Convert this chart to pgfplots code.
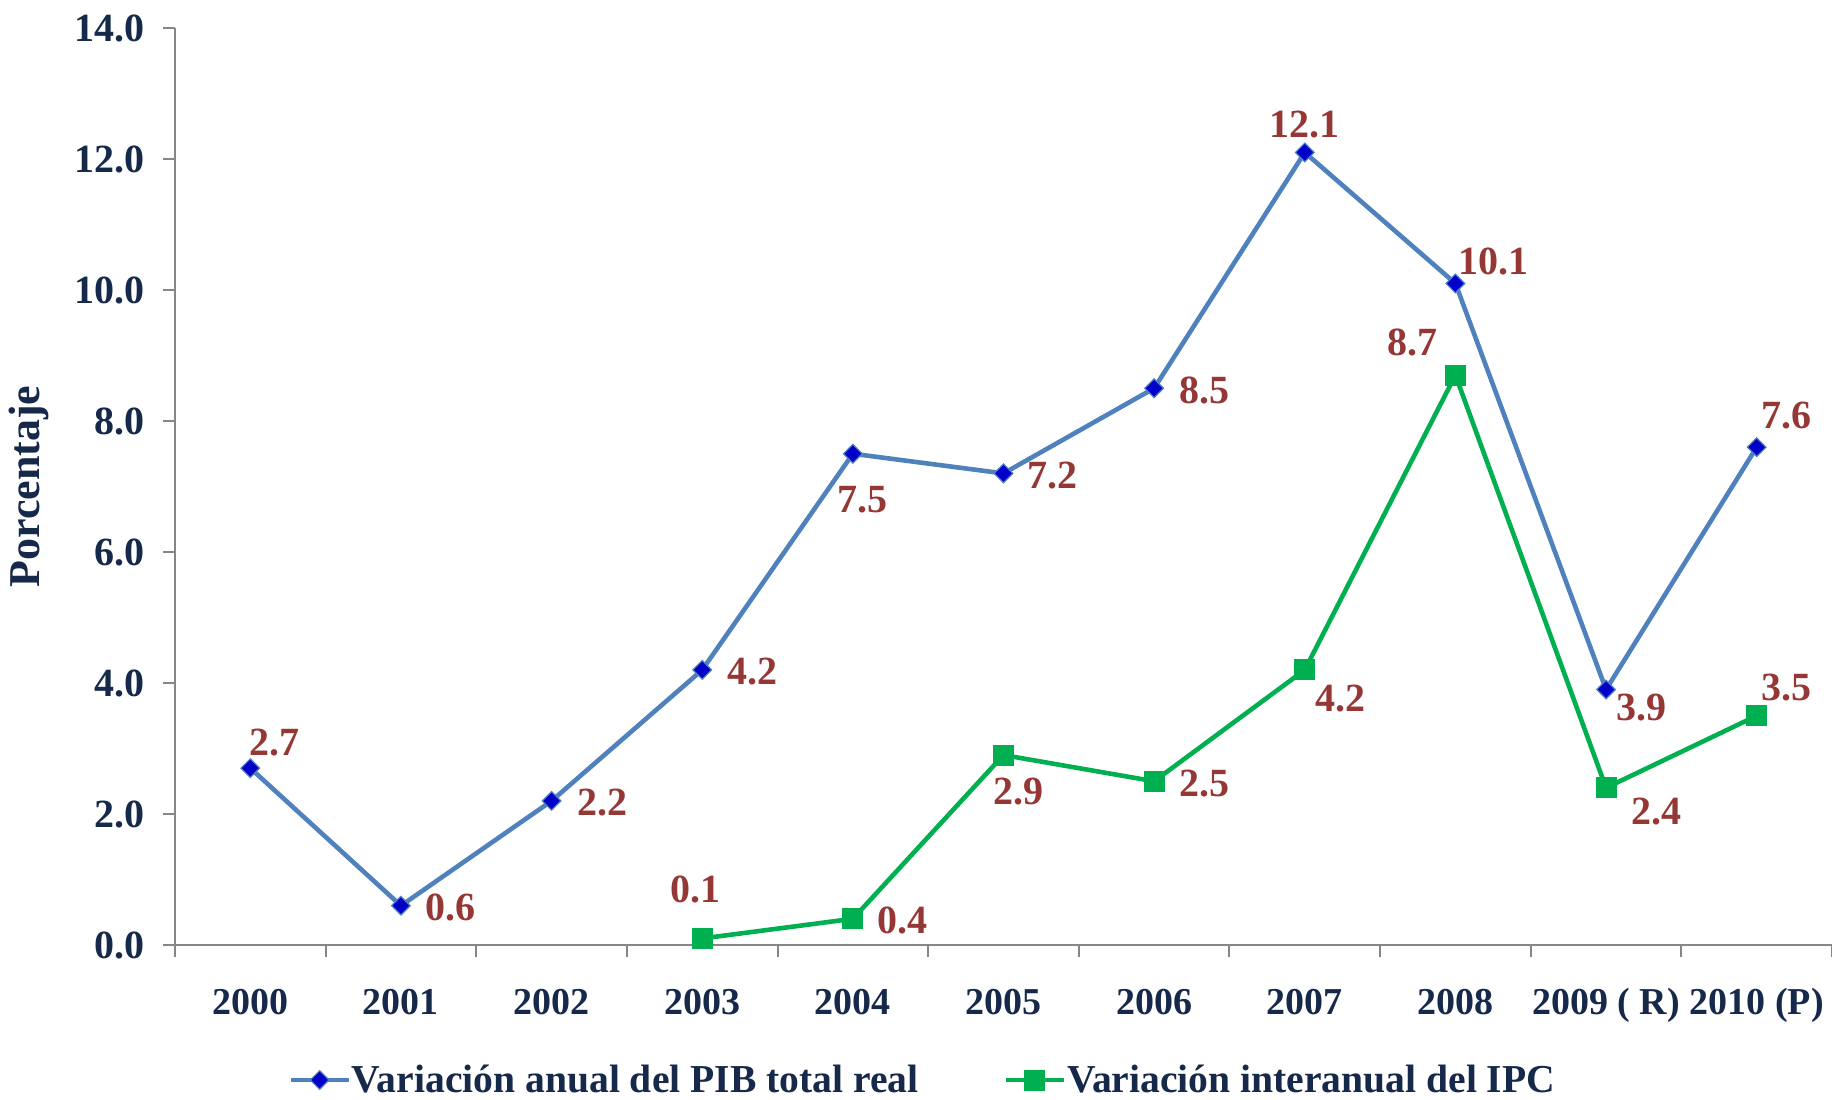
\documentclass[border=0pt]{standalone}
\usepackage{fontspec}
\setmainfont{Liberation Serif}
\usepackage{pgfplots}
\usepackage{pgfplotstable}
\pgfplotsset{compat=1.18}
\definecolor{pibline}{HTML}{4F81BD}
\definecolor{pibmark}{HTML}{0000C8}
\definecolor{ipcgreen}{HTML}{00B050}
\definecolor{lblred}{HTML}{953735}
\definecolor{navy}{HTML}{16294A}
\definecolor{axisgray}{HTML}{868686}

\newcommand{\chartfont}{\fontsize{20}{24}\selectfont\bfseries}

% PIB: x index, value, label offset (pt)
\pgfplotstableread{
x  y    dx    dy
0  2.7  12    13
1  0.6  25    -1
2  2.2  25.5  -1
3  4.2  25    -1
4  7.5  5     -23
5  7.2  24.5  -1
6  8.5  25    -1
7  12.1 0     14
8  10.1 19    11
9  3.9  17.5  -9
10 7.6  15    16
}\pib

% IPC
\pgfplotstableread{
x  y    dx    dy
3  0.1  -3.5  24.5
4  0.4  25    -1
5  2.9  7.5   -18
6  2.5  25    -1
7  4.2  18    -14.5
8  8.7  -21.5 16.5
9  2.4  25    -12
10 3.5  15    14
}\ipc

\begin{document}
\begin{tikzpicture}
\begin{axis}[
  scale only axis,
  width=828.5pt, height=458.5pt,
  xmin=-0.5, xmax=10.5,
  ymin=0, ymax=14,
  axis lines*=left,
  axis line style={axisgray, line width=1pt},
  xtick={0,...,10},
  xticklabels={2000,2001,2002,2003,2004,2005,2006,2007,2008,{2009 ( R)},{2010 (P)}},
  minor xtick={-0.5,0.5,...,10.5},
  major x tick style={draw=none},
  ytick={0,2,...,14},
  tick align=outside,
  major tick length=6pt, minor tick length=6pt,
  tick style={axisgray, line width=1pt},
  /pgf/number format/assume math mode=true,
  /pgf/number format/fixed,
  /pgf/number format/fixed zerofill,
  /pgf/number format/precision=1,
  tick label style={font=\chartfont, text=navy},
  yticklabel style={anchor=east, inner sep=0pt, xshift=-9pt},
  xticklabel style={anchor=base, inner sep=0pt, yshift=-28.7pt,
    font=\fontsize{19}{23}\selectfont\bfseries},
  ylabel={Porcentaje},
  ylabel style={at={(axis description cs:0,0.5)}, anchor=center,
    yshift=73pt, font=\fontsize{22}{26}\selectfont\bfseries, text=navy},
  legend columns=2,
  legend cell align=left,
  legend style={at={(0,0)}, anchor=west, xshift=53.5pt, yshift=-67.5pt,
    draw=none, font=\fontsize{19.8}{23}\selectfont\bfseries, text=navy,
    nodes={inner sep=0.5pt},
    /tikz/every even column/.append style={column sep=42pt}},
  legend image code/.code={\draw[mark repeat=2, mark phase=2, #1]
    plot coordinates {(0pt,0pt) (14.5pt,0pt) (29pt,0pt)};},
  nodes near coords,
  visualization depends on={\thisrow{dx} \as \dx},
  visualization depends on={\thisrow{dy} \as \dy},
  every node near coord/.append style={anchor=center, xshift=\dx pt, yshift=\dy pt,
    font=\chartfont, text=lblred},
  clip=false,
]

\addplot[pibline, line width=2.3pt, mark=square*, mark size=3.3pt,
  mark options={rotate=45, fill=pibmark, draw=pibline, line width=0.6pt}]
  table[x=x, y=y] {\pib};
\addlegendentry{Variación anual del PIB total real}

\addplot[ipcgreen, line width=2.3pt, mark=square*, mark size=5pt,
  mark options={fill=ipcgreen, draw=ipcgreen, line width=0pt}]
  table[x=x, y=y] {\ipc};
\addlegendentry{Variación interanual del IPC}

\end{axis}
\pgfresetboundingbox
\path[use as bounding box] (-87.5pt,-77pt) rectangle (828.5pt,472.5pt);
\end{tikzpicture}
\end{document}
